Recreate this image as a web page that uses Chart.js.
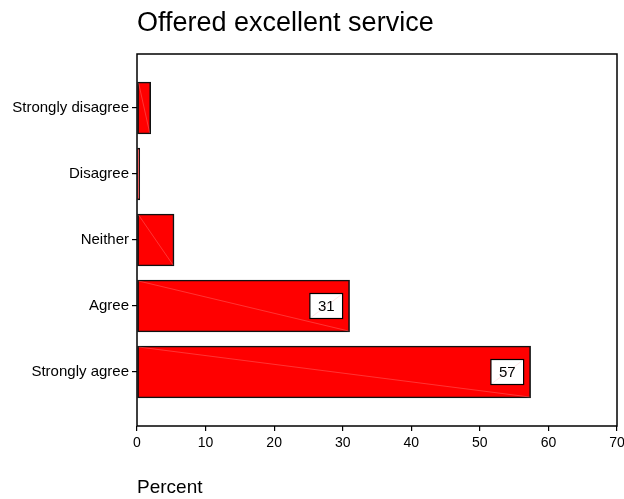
<!DOCTYPE html>
<html>
<head>
<meta charset="utf-8">
<title>Offered excellent service</title>
<script src="https://cdn.jsdelivr.net/npm/chart.js@4.4.0/dist/chart.umd.min.js"></script>
<style>
  html, body { margin: 0; padding: 0; background: #fff; }
  #chart { display: block; }
</style>
</head>
<body>
<canvas id="chart" width="624" height="499"></canvas>
<script>
var chartTitle = "Offered excellent service";
var axisTitle = "Percent";
var categories = ["Strongly disagree", "Disagree", "Neither", "Agree", "Strongly agree"];
var percents = [2.0, 0.4, 5.4, 31.0, 57.4];
var xTicks = [0, 10, 20, 30, 40, 50, 60, 70];

var fontFamily = "'Liberation Sans', Arial, Helvetica, sans-serif";
var labelMin = 10; // bars shorter than this get no value box

// title drawn flush with the plot's left edge
var titlePlugin = {
    id: "leftTitle",
    afterDraw: function (chart) {
        var ctx = chart.ctx;
        ctx.save();
        ctx.font = "27px " + fontFamily;
        ctx.fillStyle = "#000";
        ctx.textAlign = "left";
        ctx.textBaseline = "alphabetic";
        ctx.fillText(chartTitle, chart.chartArea.left, 31);
        ctx.restore();
    }
};

// box round the plot area
var framePlugin = {
    id: "frame",
    afterDatasetsDraw: function (chart) {
        var a = chart.chartArea;
        var ctx = chart.ctx;
        ctx.save();
        ctx.strokeStyle = "#000";
        ctx.lineWidth = 1.5;
        ctx.strokeRect(a.left, a.top, a.right - a.left, a.bottom - a.top);
        ctx.restore();
    }
};

// faint diagonal seams and value boxes on the bars
var barExtras = {
    id: "barExtras",
    afterDatasetsDraw: function (chart) {
        var ctx = chart.ctx;
        var bars = chart.getDatasetMeta(0).data;
        ctx.save();
        for (var i = 0; i < bars.length; i++) {
            var b = bars[i];
            var top = b.y - b.height / 2, bottom = b.y + b.height / 2;
            ctx.strokeStyle = "rgba(255, 190, 190, 0.55)";
            ctx.lineWidth = 0.5;
            ctx.beginPath();
            ctx.moveTo(b.base + 1, top + 1);
            ctx.lineTo(b.x - 1, bottom - 1);
            ctx.stroke();

            var v = percents[i];
            if (v < labelMin) continue;
            var txt = String(Math.round(v));
            ctx.font = "15px " + fontFamily;
            var w = ctx.measureText(txt).width + 16;
            var h = 25;
            var right = b.x - 7;
            var left = right - w;
            var by = b.y - h / 2;
            ctx.fillStyle = "#fff";
            ctx.fillRect(left, by, w, h);
            ctx.strokeStyle = "rgba(255, 150, 150, 0.5)";
            ctx.lineWidth = 0.5;
            ctx.beginPath();
            ctx.moveTo(left + 1, by + h - 1);
            ctx.lineTo(right - 1, by + 1);
            ctx.stroke();
            ctx.strokeStyle = "#000";
            ctx.lineWidth = 1.2;
            ctx.strokeRect(left, by, w, h);
            ctx.fillStyle = "#000";
            ctx.textAlign = "center";
            ctx.textBaseline = "middle";
            ctx.fillText(txt, left + w / 2, b.y + 1);
        }
        ctx.restore();
    }
};

var ctx = document.getElementById("chart").getContext("2d");
var myChart = new Chart(ctx, {
    type: "bar",
    data: {
        datasets: [{
            data: percents.map(function (v, i) { return { x: v, y: i }; }),
            backgroundColor: "#ff0000",
            borderColor: "#111",
            borderWidth: 1.6,
            borderSkipped: false,
            barThickness: 52
        }]
    },
    plugins: [titlePlugin, framePlugin, barExtras],
    options: {
        indexAxis: "y",
        responsive: false,
        animation: { duration: 0 },
        devicePixelRatio: 1,
        layout: {
            padding: { top: 54, left: 0, right: 0, bottom: 0 }
        },
        plugins: {
            legend: { display: false },
            title: { display: false },
            tooltip: { enabled: false }
        },
        scales: {
            x: {
                type: "linear",
                min: xTicks[0],
                max: xTicks[xTicks.length - 1],
                afterBuildTicks: function (scale) {
                    scale.ticks = xTicks.map(function (t) { return { value: t }; });
                },
                afterFit: function (scale) {
                    scale.height = 73;
                    // let the last tick label run off the edge
                    scale.paddingRight = 7;
                },
                ticks: {
                    color: "#000",
                    padding: 4,
                    maxRotation: 0,
                    font: { family: fontFamily, size: 14 }
                },
                grid: {
                    drawOnChartArea: false,
                    drawTicks: true,
                    tickLength: 5,
                    color: "#000",
                    lineWidth: 1.2
                },
                border: { display: false },
                title: {
                    display: true,
                    text: axisTitle,
                    align: "start",
                    color: "#000",
                    padding: { top: 0, bottom: 0 },
                    font: { family: fontFamily, size: 19 }
                }
            },
            y: {
                type: "linear",
                reverse: true,
                offset: false,
                min: -0.818,
                max: categories.length - 1 + 0.818,
                afterBuildTicks: function (scale) {
                    scale.ticks = categories.map(function (c, i) { return { value: i }; });
                },
                afterFit: function (scale) {
                    scale.width = 137;
                },
                ticks: {
                    color: "#000",
                    padding: 3,
                    font: { family: fontFamily, size: 15 },
                    callback: function (value) { return categories[value]; }
                },
                grid: {
                    offset: false,
                    drawOnChartArea: false,
                    drawTicks: true,
                    tickLength: 5,
                    color: "#000",
                    lineWidth: 1.2
                },
                border: { display: false }
            }
        }
    }
});
</script>
</body>
</html>
